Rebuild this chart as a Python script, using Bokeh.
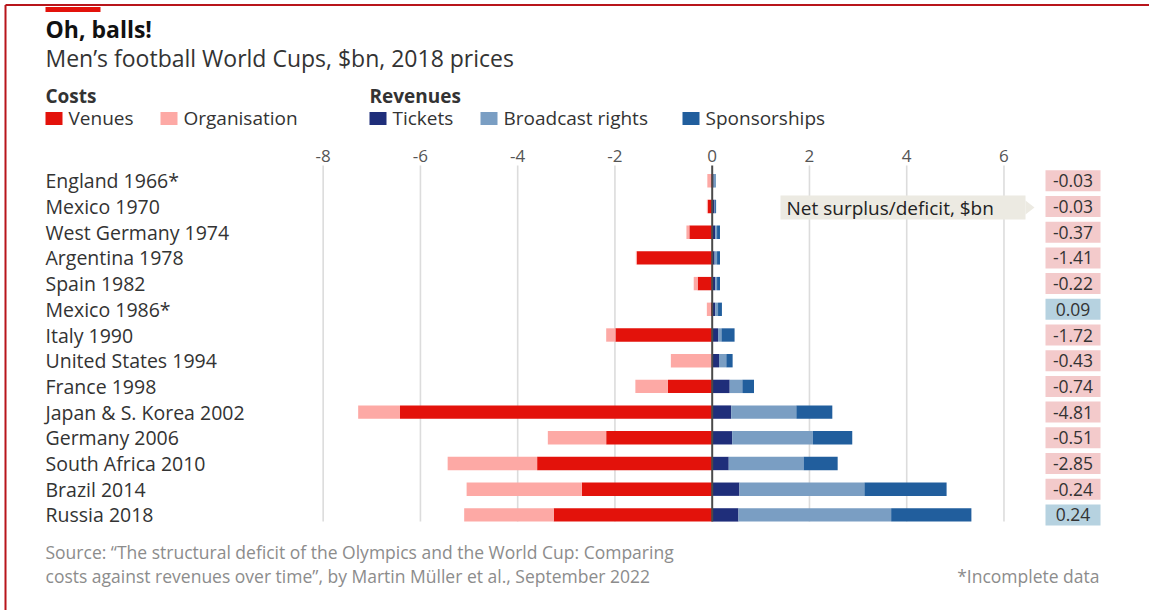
import numpy as np
from bokeh.plotting import figure
from bokeh.models import Range1d
from bokeh.core.properties import value
from bokeh.embed import file_html
from bokeh.resources import INLINE

# ---------------- data ----------------
countries = ["England 1966*", "Mexico 1970", "West Germany 1974", "Argentina 1978",
             "Spain 1982", "Mexico 1986*", "Italy 1990", "United States 1994",
             "France 1998", "Japan & S. Korea 2002", "Germany 2006",
             "South Africa 2010", "Brazil 2014", "Russia 2018"]
venues = [0.02, 0.09, 0.47, 1.55, 0.30, 0.03, 1.99, 0.00, 0.91, 6.42, 2.18, 3.60, 2.68, 3.26]
organisation = [0.08, 0.02, 0.06, 0.02, 0.08, 0.08, 0.19, 0.85, 0.67, 0.86, 1.20, 1.84, 2.37, 1.84]
tickets = [0.03, 0.05, 0.06, 0.05, 0.06, 0.06, 0.12, 0.14, 0.36, 0.39, 0.41, 0.34, 0.56, 0.54]
broadcast = [0.02, 0.01, 0.04, 0.05, 0.04, 0.06, 0.07, 0.15, 0.26, 1.34, 1.66, 1.54, 2.57, 3.14]
sponsorships = [0.02, 0.02, 0.06, 0.06, 0.06, 0.08, 0.27, 0.13, 0.24, 0.74, 0.81, 0.70, 1.69, 1.65]
net = [-0.03, -0.03, -0.37, -1.41, -0.22, 0.09, -1.72, -0.43, -0.74, -4.81, -0.51, -2.85, -0.24, 0.24]
ticks = [-8, -6, -4, -2, 0, 2, 4, 6]

# ---------------- style ----------------
FONT = value("Open Sans")
C_VEN, C_ORG = "#E3120B", "#FDA9A5"
C_TIC, C_BRO, C_SPO = "#1F2E7A", "#7A9EC3", "#215E9D"
DARK, GREY = "#333333", "#8C8C8C"

W, H = 1149, 610
X0PX, XS = 711.7, 48.63      # pixel of value 0, pixels per $bn
Y0PX, YS = 180.3, 25.7       # pixel of first row, pixels per row


def xd(px):
    return (px - X0PX) / XS


def yd(py):
    return (py - Y0PX) / YS


p = figure(width=W, height=H, x_range=Range1d(xd(0), xd(W)), y_range=Range1d(yd(H), yd(0)),
           output_backend="svg", toolbar_location=None, min_border=0,
           x_axis_location=None, y_axis_location=None, outline_line_color=None)
p.background_fill_color = "white"
p.border_fill_color = "white"
p.xgrid.grid_line_color = None
p.ygrid.grid_line_color = None

rows = np.arange(len(countries))
v = np.array(venues)
o = np.array(organisation)
t = np.array(tickets)
b = np.array(broadcast)
s = np.array(sponsorships)

# gridlines
grid_ticks = [tk for tk in ticks if tk != 0]
p.segment(x0=grid_ticks, x1=grid_ticks, y0=[yd(165)] * len(grid_ticks),
          y1=[yd(521)] * len(grid_ticks), line_color="#DCDCDC", line_width=1.6)
p.text(x=ticks, y=[yd(155)] * len(ticks), text=[str(tk) for tk in ticks],
       text_align="center", text_baseline="middle", text_font=FONT,
       text_font_size="17px", text_color="#555555")

# bars
BH = 0.52
p.hbar(y=rows, left=-v, right=0, height=BH, fill_color=C_VEN, line_color=None)
p.hbar(y=rows, left=-(v + o), right=-v, height=BH, fill_color=C_ORG, line_color=None)
p.hbar(y=rows, left=0, right=t, height=BH, fill_color=C_TIC, line_color=None)
p.hbar(y=rows, left=t, right=t + b, height=BH, fill_color=C_BRO, line_color=None)
p.hbar(y=rows, left=t + b, right=t + b + s, height=BH, fill_color=C_SPO, line_color=None)

# zero line
p.segment(x0=[0], x1=[0], y0=[yd(165)], y1=[yd(521)], line_color="#4A4A4A", line_width=2)

# country labels
p.text(x=[xd(45)] * len(rows), y=rows, text=countries, text_align="left",
       text_baseline="middle", text_font=FONT, text_font_size="19.5px", text_color=DARK)

# net labels
net_fill = ["#B6D2E0" if n > 0 else "#F3CACB" for n in net]
p.rect(x=[xd(1072.5)] * len(rows), y=rows, width=55, height=21, width_units="screen",
       height_units="screen", fill_color=net_fill, line_color=None)
p.text(x=[xd(1072.5)] * len(rows), y=rows, text=[f"{n:.2f}" for n in net],
       text_align="center", text_baseline="middle", text_font=FONT,
       text_font_size="17.5px", text_color=DARK)

# annotation box
p.quad(left=[xd(780)], right=[xd(1025)], top=[yd(195)], bottom=[yd(219)],
       fill_color="#ECEAE2", line_color=None)
p.patch(x=[xd(1025), xd(1034), xd(1025)], y=[yd(200), yd(207), yd(214)],
        fill_color="#ECEAE2", line_color=None)
p.text(x=[xd(786)], y=[yd(207.5)], text=["Net surplus/deficit, $bn"], text_align="left",
       text_baseline="middle", text_font=FONT, text_font_size="19px", text_color="#222222")

# frame decorations
p.segment(x0=[xd(5)], x1=[xd(W)], y0=[yd(4.5)], y1=[yd(4.5)], line_color="#B8151B", line_width=2)
p.segment(x0=[xd(5)], x1=[xd(5)], y0=[yd(4.5)], y1=[yd(H)], line_color="#B8151B", line_width=2)
p.quad(left=[xd(45)], right=[xd(100)], top=[yd(6.5)], bottom=[yd(11.5)], fill_color=C_VEN, line_color=None)

# title / subtitle
p.text(x=[xd(45)], y=[yd(28)], text=["Oh, balls!"], text_baseline="middle",
       text_font=FONT, text_font_size="23px", text_font_style="bold", text_color="#111111")
p.text(x=[xd(45)], y=[yd(57)], text=["Men\u2019s football World Cups, $bn, 2018 prices"],
       text_baseline="middle", text_font=FONT, text_font_size="23px", text_color=DARK)

# legend
p.text(x=[xd(45), xd(369)], y=[yd(95)] * 2, text=["Costs", "Revenues"], text_baseline="middle",
       text_font=FONT, text_font_size="19px", text_font_style="bold", text_color=DARK)
leg_names = ["Venues", "Organisation", "Tickets", "Broadcast rights", "Sponsorships"]
leg_cols = [C_VEN, C_ORG, C_TIC, C_BRO, C_SPO]
leg_px = [45, 160, 369, 480, 682]
p.rect(x=[xd(px + 8.5) for px in leg_px], y=[yd(118)] * 5, width=17, height=13,
       width_units="screen", height_units="screen", fill_color=leg_cols, line_color=None)
p.text(x=[xd(px + 23) for px in leg_px], y=[yd(117)] * 5, text=leg_names, text_baseline="middle",
       text_font=FONT, text_font_size="19px", text_color=DARK)

# footer
p.text(x=[xd(45), xd(45)], y=[yd(551), yd(575)],
       text=["Source: \u201cThe structural deficit of the Olympics and the World Cup: Comparing",
             "costs against revenues over time\u201d, by Martin M\u00fcller et al., September 2022"],
       text_baseline="middle", text_font=FONT, text_font_size="17.5px", text_color=GREY)
p.text(x=[xd(1099)], y=[yd(575)], text=["*Incomplete data"], text_align="right",
       text_baseline="middle", text_font=FONT, text_font_size="17.5px", text_color=GREY)

open("out.html", "w").write(file_html(p, INLINE))
